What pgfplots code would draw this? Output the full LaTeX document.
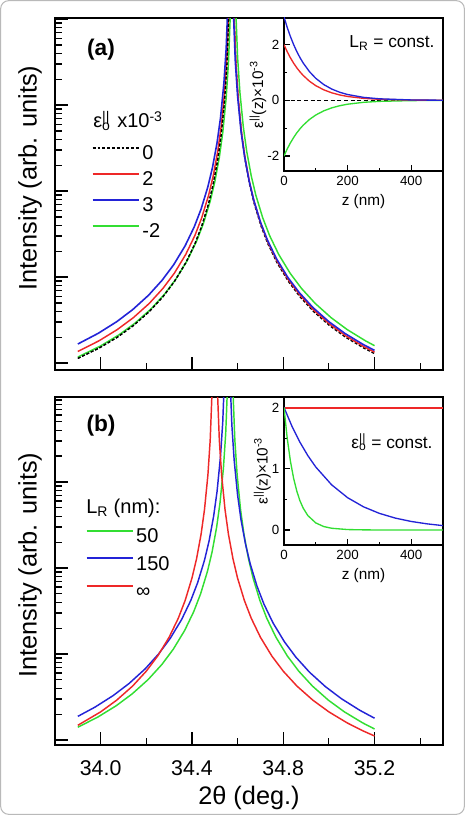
\documentclass[border=0pt]{standalone}
\usepackage{fontspec}
\setmainfont{Liberation Sans}
\usepackage{pgfplots}
\pgfplotsset{compat=1.18}
\definecolor{cred}{RGB}{238,40,40}
\definecolor{cblue}{RGB}{35,35,215}
\definecolor{cgreen}{RGB}{50,222,50}
\pgfplotsset{legend image code/.code={\draw[#1, line width=1.5pt] (0pt,0.33em) -- (35pt,0.33em);}}
\begin{document}
\begin{tikzpicture}
\useasboundingbox (0,0) rectangle (348.75pt,611.25pt);
\draw[gray!55, line width=0.8pt, rounded corners=6pt] (0.5pt,0.5pt) rectangle (348.25pt,610.75pt);

% ---------------- top panel ----------------
\begin{semilogyaxis}[scale only axis, width=291pt, height=264pt,
  at={(41.25pt,333.75pt)}, anchor=south west,
  xmin=33.8, xmax=35.5, ymin=0.830, ymax=10280,
  tick pos=left, tick align=inside,
  xtick={34.0,34.4,34.8,35.2}, minor xtick={34.2,34.6,35.0,35.4}, xticklabels={},
  ytick={1,10,100,1000,10000}, yticklabels={},
  major tick length=9.5pt, minor tick length=5pt,
  axis line style={line width=1.2pt},
  tick style={line width=0.9pt, black},
  ylabel={Intensity (arb. units)},
  label style={font=\fontsize{19}{22}\selectfont},
  ylabel style={at={(axis description cs:-0.064,0.545)}, anchor=center},
  legend style={at={(axis description cs:0.094,0.645)}, anchor=north west, draw=none, fill=none,
    font=\fontsize{15}{18}\selectfont, inner sep=0pt, row sep=5.5pt,
    nodes={inner sep=1.5pt, text height=11pt, text depth=0pt}},
  legend cell align=left]
% eps0 = 0
\addplot[black, line width=1.0pt, dash pattern=on 2.2pt off 1.4pt] coordinates {
(33.900,1.133) (33.993,1.493) (34.073,1.998) (34.143,2.724) (34.213,3.97) (34.273,5.91)
(34.323,8.86) (34.373,14.63) (34.413,24.25) (34.443,38.95) (34.473,71.05) (34.493,118.65)
(34.513,229.65) (34.528,445.05) (34.543,1130) (34.553,2868) (34.563,14130) (34.573,100000)
(34.583,14130) (34.593,2868) (34.603,1130) (34.618,445.05) (34.633,229.65) (34.653,118.65)
(34.673,71.05) (34.703,38.95) (34.733,24.25) (34.773,14.63) (34.823,8.86) (34.873,5.91)
(34.933,3.97) (35.003,2.724) (35.073,1.998) (35.153,1.493) (35.200,1.289)};
\addlegendentry{0}
% eps0 = 2
\addplot[cred, line width=1.1pt] coordinates {
(33.900,1.362) (33.993,1.815) (34.073,2.451) (34.143,3.365) (34.213,4.934) (34.273,7.376)
(34.323,11.09) (34.373,18.35) (34.413,30.47) (34.443,48.97) (34.473,89.39) (34.493,149.1)
(34.513,289.1) (34.528,560.0) (34.543,1422.7) (34.553,3611) (34.563,17790) (34.573,100000)
(34.583,14794) (34.593,3003) (34.603,1183) (34.618,466.2) (34.633,240.4) (34.653,124.2)
(34.673,74.38) (34.703,40.77) (34.733,25.38) (34.773,15.31) (34.823,9.265) (34.873,6.176)
(34.933,4.145) (35.003,2.840) (35.073,2.080) (35.153,1.551) (35.200,1.338)};
\addlegendentry{2}
% eps0 = 3
\addplot[cblue, line width=1.2pt] coordinates {
(33.900,1.664) (33.990,2.220) (34.070,3.021) (34.140,4.171) (34.210,6.146) (34.270,9.221)
(34.320,13.90) (34.370,23.04) (34.410,38.29) (34.440,61.59) (34.470,112.5) (34.490,187.9)
(34.510,363.6) (34.525,705.0) (34.540,1791) (34.550,4546) (34.560,22400) (34.570,100000)
(34.580,15854) (34.590,3218) (34.600,1268) (34.615,499.3) (34.630,257.6) (34.650,133.1)
(34.670,79.69) (34.700,43.67) (34.730,27.18) (34.770,16.38) (34.820,9.910) (34.870,6.601)
(34.930,4.424) (35.000,3.026) (35.070,2.211) (35.150,1.645) (35.200,1.403)};
\addlegendentry{3}
% eps0 = -2
\addplot[cgreen, line width=1.1pt] coordinates {
(33.900,1.174) (34.000,1.582) (34.080,2.124) (34.150,2.902) (34.220,4.238) (34.280,6.318)
(34.330,9.480) (34.380,15.67) (34.420,25.98) (34.450,41.74) (34.480,76.15) (34.500,127.2)
(34.520,246.2) (34.535,477.1) (34.550,1211) (34.560,3075) (34.570,15147) (34.580,100000)
(34.590,17790) (34.600,3611) (34.610,1423) (34.625,560.0) (34.640,289.1) (34.660,149.3)
(34.680,89.39) (34.710,48.97) (34.740,30.47) (34.780,18.35) (34.830,11.09) (34.880,7.376)
(34.940,4.934) (35.010,3.365) (35.080,2.451) (35.160,1.815) (35.200,1.592)};
\addlegendentry{-2}
% eps0 = 0 drawn again on top over the left flank, where it lies on the green curve
\addplot[black, line width=1.0pt, dash pattern=on 2.2pt off 1.4pt, forget plot] coordinates {
(33.900,1.133) (33.993,1.493) (34.073,1.998) (34.143,2.724) (34.213,3.97) (34.273,5.91)
(34.323,8.86) (34.373,14.63) (34.413,24.25) (34.443,38.95) (34.473,71.05) (34.493,118.65)
(34.513,229.65) (34.528,445.05) (34.543,1130) (34.553,2868) (34.563,14130) (34.573,100000)};
\end{semilogyaxis}

% ---------------- bottom panel ----------------
\begin{semilogyaxis}[scale only axis, width=291pt, height=261pt,
  at={(41.25pt,52.5pt)}, anchor=south west,
  xmin=33.8, xmax=35.5, ymin=0.875, ymax=9727,
  tick pos=left, tick align=inside,
  xtick={34.0,34.4,34.8,35.2}, minor xtick={34.2,34.6,35.0,35.4},
  xticklabels={34.0,34.4,34.8,35.2},
  ytick={1,10,100,1000,10000}, yticklabels={},
  major tick length=9.5pt, minor tick length=5pt,
  axis line style={line width=1.2pt},
  tick style={line width=0.9pt, black},
  xticklabel style={font=\fontsize{16}{19}\selectfont, anchor=center, yshift=-17.25pt},
  xlabel={2θ (deg.)}, ylabel={Intensity (arb. units)},
  label style={font=\fontsize{19}{22}\selectfont},
  xlabel style={at={(axis description cs:0.5,0)}, anchor=center, yshift=-39.75pt},
  ylabel style={at={(axis description cs:-0.064,0.517)}, anchor=center},
  legend style={at={(axis description cs:0.078,0.630)}, anchor=north west, draw=none, fill=none,
    font=\fontsize{15}{18}\selectfont, inner sep=0pt, row sep=6.5pt,
    nodes={inner sep=1.5pt, text height=11pt, text depth=0pt}},
  legend cell align=left]
% L_R = 50
\addplot[cgreen, line width=1.1pt] coordinates {
(33.900,1.407) (33.988,1.851) (34.068,2.501) (34.138,3.437) (34.208,5.041) (34.268,7.540)
(34.318,11.34) (34.368,18.77) (34.408,31.16) (34.438,50.10) (34.468,91.44) (34.488,152.5)
(34.508,295.5) (34.523,573.2) (34.538,1455) (34.548,3694) (34.558,18200) (34.568,100000)
(34.578,15147) (34.588,3075) (34.598,1211) (34.613,477.1) (34.628,246.2) (34.648,127.2)
(34.668,76.15) (34.698,41.74) (34.728,25.98) (34.768,15.67) (34.818,9.480) (34.868,6.318)
(34.928,4.238) (34.998,2.902) (35.068,2.124) (35.148,1.582) (35.200,1.344)};
\addlegendentry{50}
% L_R = 150
\addplot[cblue, line width=1.1pt] coordinates {
(33.900,1.883) (33.975,2.410) (34.055,3.288) (34.125,4.550) (34.195,6.715) (34.255,10.09)
(34.305,15.21) (34.355,25.24) (34.395,41.96) (34.425,67.51) (34.455,123.1) (34.475,205.8)
(34.495,398.9) (34.510,773.3) (34.525,1964) (34.535,4985) (34.545,24560) (34.555,100000)
(34.565,22400) (34.575,4546) (34.585,1791) (34.600,705.0) (34.615,363.6) (34.635,187.9)
(34.655,112.5) (34.685,61.59) (34.715,38.29) (34.755,23.04) (34.805,13.90) (34.855,9.221)
(34.915,6.146) (34.985,4.171) (35.055,3.021) (35.135,2.220) (35.200,1.793)};
\addlegendentry{150}
% L_R = infinity
\addplot[cred, line width=1.1pt] coordinates {
(33.900,1.482) (34.000,2.124) (34.070,2.902) (34.140,4.238) (34.200,6.318) (34.250,9.480)
(34.300,15.67) (34.340,25.98) (34.370,41.74) (34.400,76.15) (34.420,127.2) (34.440,246.2)
(34.455,477.1) (34.470,1211) (34.480,3075) (34.490,15147) (34.500,100000)
(34.510,15147) (34.520,3075) (34.530,1211) (34.545,477.1) (34.560,246.2) (34.580,127.2)
(34.600,76.15) (34.630,41.74) (34.660,25.98) (34.700,15.67) (34.750,9.480) (34.800,6.318)
(34.860,4.238) (34.930,2.902) (35.000,2.124) (35.080,1.582) (35.150,1.275) (35.200,1.114)};
\addlegendentry{∞}
\end{semilogyaxis}

% ---------------- top inset ----------------
\begin{axis}[scale only axis, width=119.25pt, height=114.75pt,
  at={(213pt,483pt)}, anchor=south west,
  xmin=0, xmax=500, ymin=-2.54, ymax=2.96,
  tick pos=left, tick align=inside,
  xtick={0,200,400}, minor xtick={100,300}, xticklabels={0,200,400},
  ytick={-2,0,2}, minor ytick={-1,1}, yticklabels={-2,0,2},
  major tick length=4.5pt, minor tick length=2.5pt,
  axis line style={line width=1.1pt},
  tick style={line width=0.8pt, black},
  tick label style={font=\fontsize{10}{12}\selectfont},
  label style={font=\fontsize{11.5}{13}\selectfont},
  xlabel={z (nm)}, ylabel={ε\textsuperscript{||}(z)×10\textsuperscript{-3}},
  ylabel style={yshift=-6pt},
  axis background/.style={fill=white}]
\addplot[black, line width=1.0pt, dash pattern=on 3pt off 2pt] coordinates {(0,0) (500,0)};
\addplot[cgreen, line width=1.0pt] coordinates {(0,-2) (10,-1.750) (20,-1.532) (30,-1.341) (40,-1.173) (50,-1.027)
 (60,-0.899) (80,-0.688) (100,-0.527) (125,-0.378) (150,-0.271) (175,-0.194) (200,-0.139)
 (250,-0.071) (300,-0.037) (400,-0.010) (500,-0.003)};
\addplot[cred, line width=1.0pt] coordinates {(0,2) (10,1.750) (20,1.532) (30,1.341) (40,1.173) (50,1.027)
 (60,0.899) (80,0.688) (100,0.527) (125,0.378) (150,0.271) (175,0.194) (200,0.139)
 (250,0.071) (300,0.037) (400,0.010) (500,0.003)};
\addplot[cblue, line width=1.0pt] coordinates {(0,3) (10,2.626) (20,2.298) (30,2.011) (40,1.760) (50,1.540)
 (60,1.348) (80,1.033) (100,0.791) (125,0.567) (150,0.406) (175,0.291) (200,0.209)
 (250,0.107) (300,0.055) (400,0.014) (500,0.004)};
\end{axis}

% ---------------- bottom inset ----------------
\begin{axis}[scale only axis, width=119.25pt, height=111pt,
  at={(213pt,202.5pt)}, anchor=south west,
  xmin=0, xmax=500, ymin=-0.245, ymax=2.17,
  tick pos=left, tick align=inside,
  xtick={0,200,400}, minor xtick={100,300}, xticklabels={0,200,400},
  ytick={0,1,2}, minor ytick={0.5,1.5}, yticklabels={0,1,2},
  major tick length=4.5pt, minor tick length=2.5pt,
  axis line style={line width=1.1pt},
  tick style={line width=0.8pt, black},
  tick label style={font=\fontsize{10}{12}\selectfont},
  label style={font=\fontsize{11.5}{13}\selectfont},
  xlabel={z (nm)}, ylabel={ε\textsuperscript{||}(z)×10\textsuperscript{-3}},
  ylabel style={yshift=-6pt},
  axis background/.style={fill=white}]
\addplot[cred, line width=1.5pt] coordinates {(0,1.995) (500,1.995)};
\addplot[cblue, line width=1.0pt] coordinates {(0,2) (25,1.693) (50,1.433) (75,1.213) (100,1.027) (150,0.736)
 (200,0.527) (250,0.378) (300,0.271) (350,0.194) (400,0.139) (450,0.100) (500,0.071)};
\addplot[cgreen, line width=1.0pt] coordinates {(0,2) (10,1.503) (20,1.129) (30,0.849) (40,0.638) (50,0.479)
 (60,0.360) (75,0.235) (100,0.115) (125,0.056) (150,0.028) (200,0.007) (250,0.002)
 (300,0.0) (500,0.0)};
\end{axis}

% ---------------- texts ----------------
\node[font=\bfseries\fontsize{17}{20}\selectfont] at (75.75pt,573.75pt) {(a)};
\node[font=\bfseries\fontsize{17}{20}\selectfont] at (75.75pt,291.75pt) {(b)};
\node[anchor=base west, inner sep=0pt, font=\fontsize{15}{18}\selectfont] at (69.75pt,515.25pt)
  {ε\rlap{\textsuperscript{||}}\textsubscript{o}\,\,x10\textsuperscript{-3}};
\node[anchor=base west, inner sep=0pt, font=\fontsize{15}{18}\selectfont] at (64.5pt,226pt)
  {L\textsubscript{R} (nm):};
\node[font=\fontsize{13}{15}\selectfont] at (294pt,579pt) {L\textsubscript{R} = const.};
\node[font=\fontsize{13}{15}\selectfont] at (294pt,279.75pt)
  {ε\rlap{\textsuperscript{||}}\textsubscript{o} = const.};
\end{tikzpicture}
\end{document}
